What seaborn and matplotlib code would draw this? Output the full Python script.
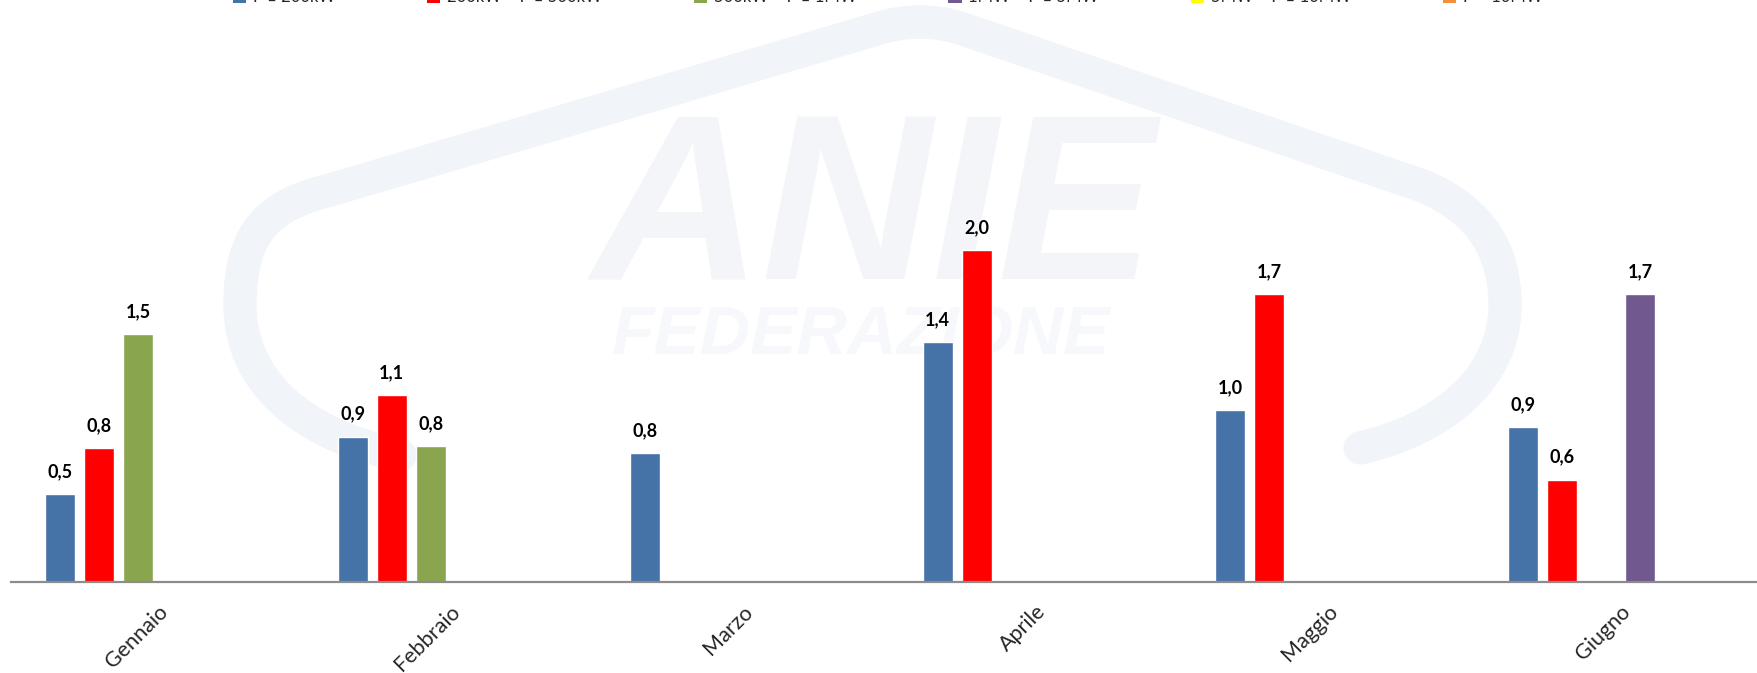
import numpy as np
import pandas as pd
import matplotlib
matplotlib.use("Agg")
import matplotlib.pyplot as plt
import seaborn as sns
from matplotlib.patches import Patch, PathPatch
from matplotlib.path import Path

# dati (MW) per classe di potenza e mese
mesi = ["Gennaio", "Febbraio", "Marzo", "Aprile", "Maggio", "Giugno"]
classi = ["P ≤ 200kW", "200kW < P ≤ 500kW", "500kW < P ≤ 1MW",
          "1MW < P ≤ 5MW", "5MW < P ≤ 10MW", "P > 10MW"]
p_200kw = [0.53, 0.88, 0.78, 1.45, 1.04, 0.94]
p_500kw = [0.81, 1.13, np.nan, 2.01, 1.74, 0.62]
p_1mw = [1.50, 0.82, np.nan, np.nan, np.nan, np.nan]
p_5mw = [np.nan, np.nan, np.nan, np.nan, np.nan, 1.74]
p_10mw = [np.nan] * 6
p_oltre = [np.nan] * 6
colori = ["#4572A7", "#FF0000", "#89A54E", "#71588F", "#FFFF00", "#F38F3A"]

serie = [p_200kw, p_500kw, p_1mw, p_5mw, p_10mw, p_oltre]
df = pd.DataFrame({
    "mese": np.tile(mesi, len(classi)),
    "classe": np.repeat(classi, len(mesi)),
    "valore": np.concatenate(serie),
})

sns.set_style("white")
plt.rcParams["font.family"] = ["Lato", "DejaVu Sans"]

fig = plt.figure(figsize=(17.58, 6.73), dpi=100)

# filigrana ANIE sullo sfondo
W, H = 1758, 673
pts = [(400, 455), (300, 435), (240, 380), (240, 305),
       (240, 230), (270, 205), (330, 190),
       (880, 28),
       (905, 20), (935, 20), (960, 28),
       (1420, 185),
       (1470, 205), (1505, 240), (1505, 305),
       (1505, 380), (1440, 430), (1360, 448)]
codes = [Path.MOVETO, Path.CURVE4, Path.CURVE4, Path.CURVE4,
         Path.CURVE4, Path.CURVE4, Path.CURVE4,
         Path.LINETO,
         Path.CURVE4, Path.CURVE4, Path.CURVE4,
         Path.LINETO,
         Path.CURVE4, Path.CURVE4, Path.CURVE4,
         Path.CURVE4, Path.CURVE4, Path.CURVE4]
path = Path([(x / W, 1 - y / H) for x, y in pts], codes)
fig.add_artist(PathPatch(path, transform=fig.transFigure, fill=False,
                         edgecolor="#f1f4f9", lw=24, capstyle="round", zorder=0))
fig.text(0.497, 0.675, "ANIE", fontsize=170, fontweight="bold", style="italic",
         color="#f3f5f9", ha="center", va="center", family="Liberation Sans", zorder=0)
fig.text(0.49, 0.50, "FEDERAZIONE", fontsize=50, fontweight="bold", style="italic",
         color="#f7f8fb", ha="center", va="center", family="Liberation Sans", zorder=0)

ax = fig.add_axes([0.0064, 0.1352, 0.9936, 0.835])
ax.set_zorder(2)
ax.patch.set_alpha(0)

sns.barplot(data=df, x="mese", y="valore", hue="classe", order=mesi,
            hue_order=classi, palette=colori, saturation=1, gap=0.23,
            errorbar=None, legend=False, ax=ax)

for cont in ax.containers:
    etichette = [f"{v:.1f}".replace(".", ",") for v in cont.datavalues]
    ax.bar_label(cont, labels=etichette, padding=10, fontsize=13,
                 fontweight="bold", color="black")

ax.set_xlim(-0.5, 5.47)
ax.set_ylim(0, 3.4)
ax.set_xlabel("")
ax.set_ylabel("")
ax.set_yticks([])
for s in ["top", "right", "left"]:
    ax.spines[s].set_visible(False)
ax.spines["bottom"].set_color("#8c8c8c")
ax.spines["bottom"].set_linewidth(1.6)
ax.tick_params(axis="x", length=0, pad=14)
plt.setp(ax.get_xticklabels(), rotation=45, ha="right", rotation_mode="anchor",
         fontsize=15.5)

handles = [Patch(facecolor=c, edgecolor="none") for c in colori]
leg = fig.legend(handles, classi, loc="center", bbox_to_anchor=(0.505, 1 + 3 / H),
                 ncol=6, frameon=False, fontsize=12, handlelength=0.8,
                 handleheight=0.8, columnspacing=5.5, handletextpad=0.4)
leg.set_zorder(3)

fig.savefig("out.png", dpi=100)
